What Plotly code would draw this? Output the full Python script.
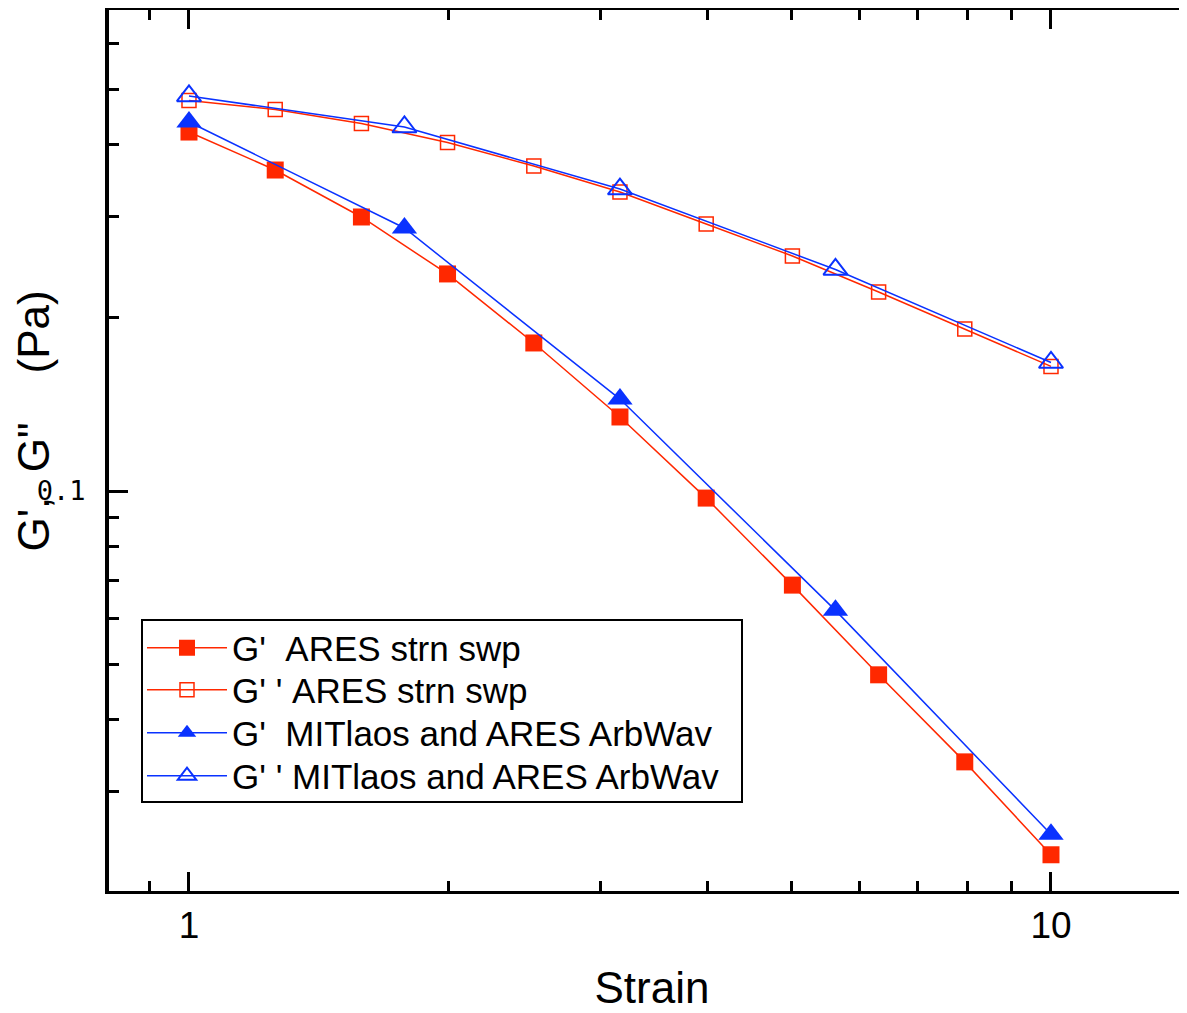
import math
import plotly.graph_objects as go

# ---- data ----
strain_ares = [1.0, 1.259, 1.585, 1.995, 2.512, 3.162, 3.981, 5.012, 6.310, 7.943, 10.0]
gp_ares = [0.421, 0.3616, 0.2996, 0.2385, 0.1809, 0.1345, 0.0972, 0.0686, 0.0479, 0.0338, 0.0233]
gpp_ares = [0.4777, 0.4608, 0.4356, 0.4038, 0.3675, 0.3311, 0.2913, 0.2563, 0.2219, 0.1913, 0.1647]

strain_mit = [1.0, 1.778, 3.162, 5.623, 10.0]
gp_mit = [0.4383, 0.2867, 0.1445, 0.0620, 0.0253]
gpp_mit = [0.4864, 0.4296, 0.3351, 0.2428, 0.1673]

series_names = [
    "G'\u00a0\u00a0ARES strn swp",
    "G'\u00a0'\u00a0ARES strn swp",
    "G'\u00a0\u00a0MITlaos and ARES ArbWav",
    "G'\u00a0'\u00a0MITlaos and ARES ArbWav",
]

x_tickvals = [1, 10]
x_ticktext = ["1", "10"]
x_minor = [0.9, 2, 3, 4, 5, 6, 7, 8, 9]
y_tickvals = [0.1]
y_ticktext = ["0.1"]
y_minor = [0.03, 0.04, 0.05, 0.06, 0.07, 0.08, 0.09, 0.2, 0.3, 0.4, 0.5, 0.6]

RED = "#ff2800"
BLUE = "#0a32ff"
FONT = "Liberation Sans, Arial, sans-serif"

# layout geometry (figure pixels)
W, H = 1187, 1013
ML, MR, MT, MB = 101, 0, 2, 130
PW = W - ML - MR
PH = H - MT - MB


def px(xf):
    return (xf - ML) / PW


def py(yf):
    return (H - MB - yf) / PH


fig = go.Figure()
fig.add_trace(go.Scatter(
    x=strain_ares, y=gp_ares, mode="lines+markers", name=series_names[0],
    legend="legend",
    line=dict(color=RED, width=1.5),
    marker=dict(symbol="square", size=17, color=RED, line=dict(width=0)),
))
fig.add_trace(go.Scatter(
    x=strain_ares, y=gpp_ares, mode="lines+markers", name=series_names[1],
    legend="legend2",
    line=dict(color=RED, width=1.5),
    marker=dict(symbol="square-open", size=14, color=RED, line=dict(width=1.5, color=RED)),
))
fig.add_trace(go.Scatter(
    x=strain_mit, y=gp_mit, mode="lines+markers", name=series_names[2],
    legend="legend3",
    line=dict(color=BLUE, width=1.5),
    marker=dict(symbol="triangle-up", size=22, color=BLUE, line=dict(width=0)),
))
fig.add_trace(go.Scatter(
    x=strain_mit, y=gpp_mit, mode="lines+markers", name=series_names[3],
    legend="legend4",
    line=dict(color=BLUE, width=1.5),
    marker=dict(symbol="triangle-up-open", size=21, color=BLUE, line=dict(width=2, color=BLUE)),
))


def leg(yc):
    return dict(
        x=px(134), y=py(yc), xanchor="left", yanchor="middle",
        bgcolor="rgba(0,0,0,0)", borderwidth=0,
        font=dict(family=FONT, size=35, color="black"),
        itemwidth=80,
    )


fig.update_layout(
    width=W, height=H,
    margin=dict(l=ML, r=MR, t=MT, b=MB),
    paper_bgcolor="white", plot_bgcolor="white",
    font=dict(family=FONT, color="black"),
    showlegend=True,
    legend=leg(640),
    legend2=leg(682),
    legend3=leg(725),
    legend4=leg(768),
    xaxis=dict(
        type="log",
        range=[-0.0928, -0.0928 + PW / 862.0],
        tickmode="array", tickvals=x_tickvals, ticktext=x_ticktext,
        ticks="inside", ticklen=19, tickwidth=3, tickcolor="black",
        tickfont=dict(family=FONT, size=37, color="black"),
        minor=dict(tickmode="array", tickvals=x_minor, ticks="inside",
                   ticklen=10, tickwidth=3, tickcolor="black", showgrid=False),
        showline=True, linewidth=3, linecolor="black", mirror="ticks",
        showgrid=False, zeroline=False,
        title=dict(text="Strain", font=dict(family=FONT, size=44, color="black"), standoff=27),
    ),
    yaxis=dict(
        type="log",
        range=[-1 - (H - MB - 483) / 575.0, -1 + (483 - MT) / 575.0],
        tickmode="array", tickvals=y_tickvals, ticktext=y_ticktext,
        ticks="inside", ticklen=19, tickwidth=3, tickcolor="black",
        tickfont=dict(family="DejaVu Sans Mono, monospace", size=27, color="black"),
        ticklabelstandoff=14,
        minor=dict(tickmode="array", tickvals=y_minor, ticks="inside",
                   ticklen=10, tickwidth=3, tickcolor="black", showgrid=False),
        showline=True, linewidth=4, linecolor="black", mirror=False,
        showgrid=False, zeroline=False,
        title=dict(text=""),
    ),
    shapes=[dict(
        type="rect", xref="paper", yref="paper",
        x0=px(134), x1=px(734), y0=py(794), y1=py(612),
        line=dict(color="black", width=2), fillcolor="white", layer="above",
    )],
    annotations=[dict(
        text="G',\u00a0\u00a0G\"\u00a0\u00a0\u00a0\u00a0(Pa)",
        textangle=-90, xref="paper", yref="paper",
        x=px(25), y=py(413.5), xanchor="center", yanchor="middle",
        showarrow=False, font=dict(family=FONT, size=44, color="black"),
    )],
)

fig.write_html("out.html")
